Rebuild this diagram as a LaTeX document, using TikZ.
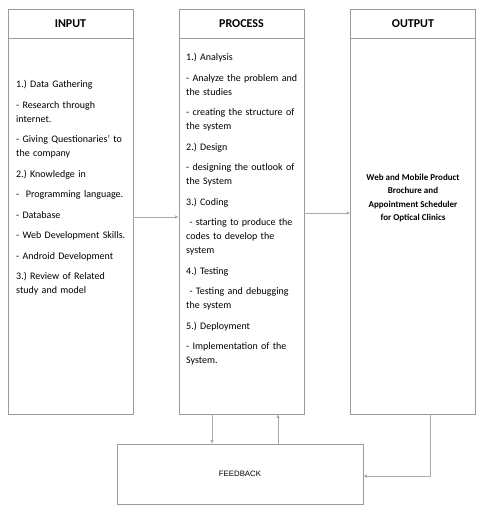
\documentclass[tikz,border=0pt]{standalone}
\usepackage{fontspec}
\setmainfont{Carlito}
\newfontfamily\feedfont{Liberation Sans}
\definecolor{boxgray}{RGB}{155,155,155}
\definecolor{arrowgray}{RGB}{170,170,170}
\usetikzlibrary{arrows.meta,positioning}
\frenchspacing

\begin{document}
\begin{tikzpicture}[x=1pt, y=-1pt,
  colbox/.style={draw=boxgray, line width=0.8pt, minimum width=125pt, minimum height=405pt, inner sep=0pt},
  headtxt/.style={minimum width=125pt, minimum height=29pt, inner sep=0pt, font=\fontsize{12}{15}\selectfont\bfseries},
  bodytxt/.style={anchor=north west, inner sep=0pt, text width=115pt, align=left, font=\fontsize{10}{14}\selectfont},
  flow/.style={arrowgray, line width=0.8pt, -{Triangle[length=3.5pt, width=3pt]}}
]
\useasboundingbox (0,0) rectangle (485,512);
% three columns
\node[colbox] (input) at (70.5,211.5) {};
\node[colbox] (process) at (241.5,211.5) {};
\node[colbox] (output) at (413,211.5) {};
\node[draw=boxgray, line width=0.8pt, minimum width=246pt, minimum height=60pt,
      font=\feedfont\fontsize{7.8}{9}\selectfont] (feedback) at (240,474) {FEEDBACK};
% headers
\node[headtxt, below=0pt of input.north] (inhead) {INPUT};
\node[headtxt, below=0pt of process.north] (prochead) {PROCESS};
\node[headtxt, below=0pt of output.north] (outhead) {OUTPUT};
\draw[boxgray, line width=0.8pt] (inhead.south west) -- (inhead.south east);
\draw[boxgray, line width=0.8pt] (prochead.south west) -- (prochead.south east);
\draw[boxgray, line width=0.8pt] (outhead.south west) -- (outhead.south east);
% column texts
\node[bodytxt] (intext) at (16,80) {1.) Data Gathering\\[6.5pt]
  - Research through\\internet.\\[6.5pt]
  - Giving Questionaries' to\\the company\\[6.5pt]
  2.) Knowledge in\\[6.5pt]
  - \ Programming language.\\[6.5pt]
  - Database\\[6.5pt]
  - Web Development Skills.\\[6.5pt]
  - Android Development\\[6.5pt]
  3.) Review of Related\\study and model};
\node[bodytxt] (proctext) at (186,53) {1.) Analysis\\[6.5pt]
  - Analyze the problem and\\the studies\\[6.5pt]
  - creating the structure of\\the system\\[6.5pt]
  2.) Design\\[6.5pt]
  - designing the outlook of\\the System\\[6.5pt]
  3.) Coding\\[6.5pt]
  \ - starting to produce the\\codes to develop the\\system\\[6.5pt]
  4.) Testing\\[6.5pt]
  \ - Testing and debugging\\the system\\[6.5pt]
  5.) Deployment\\[6.5pt]
  - Implementation of the\\System.};
\node[inner sep=0pt, align=center, font=\fontsize{9}{13.5}\selectfont\bfseries] (outtext) at (413,198)
  {Web and Mobile Product\\Brochure and\\Appointment Scheduler\\for Optical Clinics};
% connectors
\draw[flow] ([yshift=-5.5pt]input.east) -- ([yshift=-5.5pt]input.east -| process.west);
\draw[flow] ([yshift=-1.5pt]process.east) -- ([yshift=-1.5pt]process.east -| output.west);
\draw[flow] ([xshift=-29.5pt]process.south) -- ([xshift=-29.5pt]process.south |- feedback.north);
\draw[flow] ([xshift=36.5pt]process.south |- feedback.north) -- ([xshift=36.5pt]process.south);
\draw[flow] ([xshift=17pt]output.south) |- ([yshift=-2pt]feedback.east);
\end{tikzpicture}
\end{document}
